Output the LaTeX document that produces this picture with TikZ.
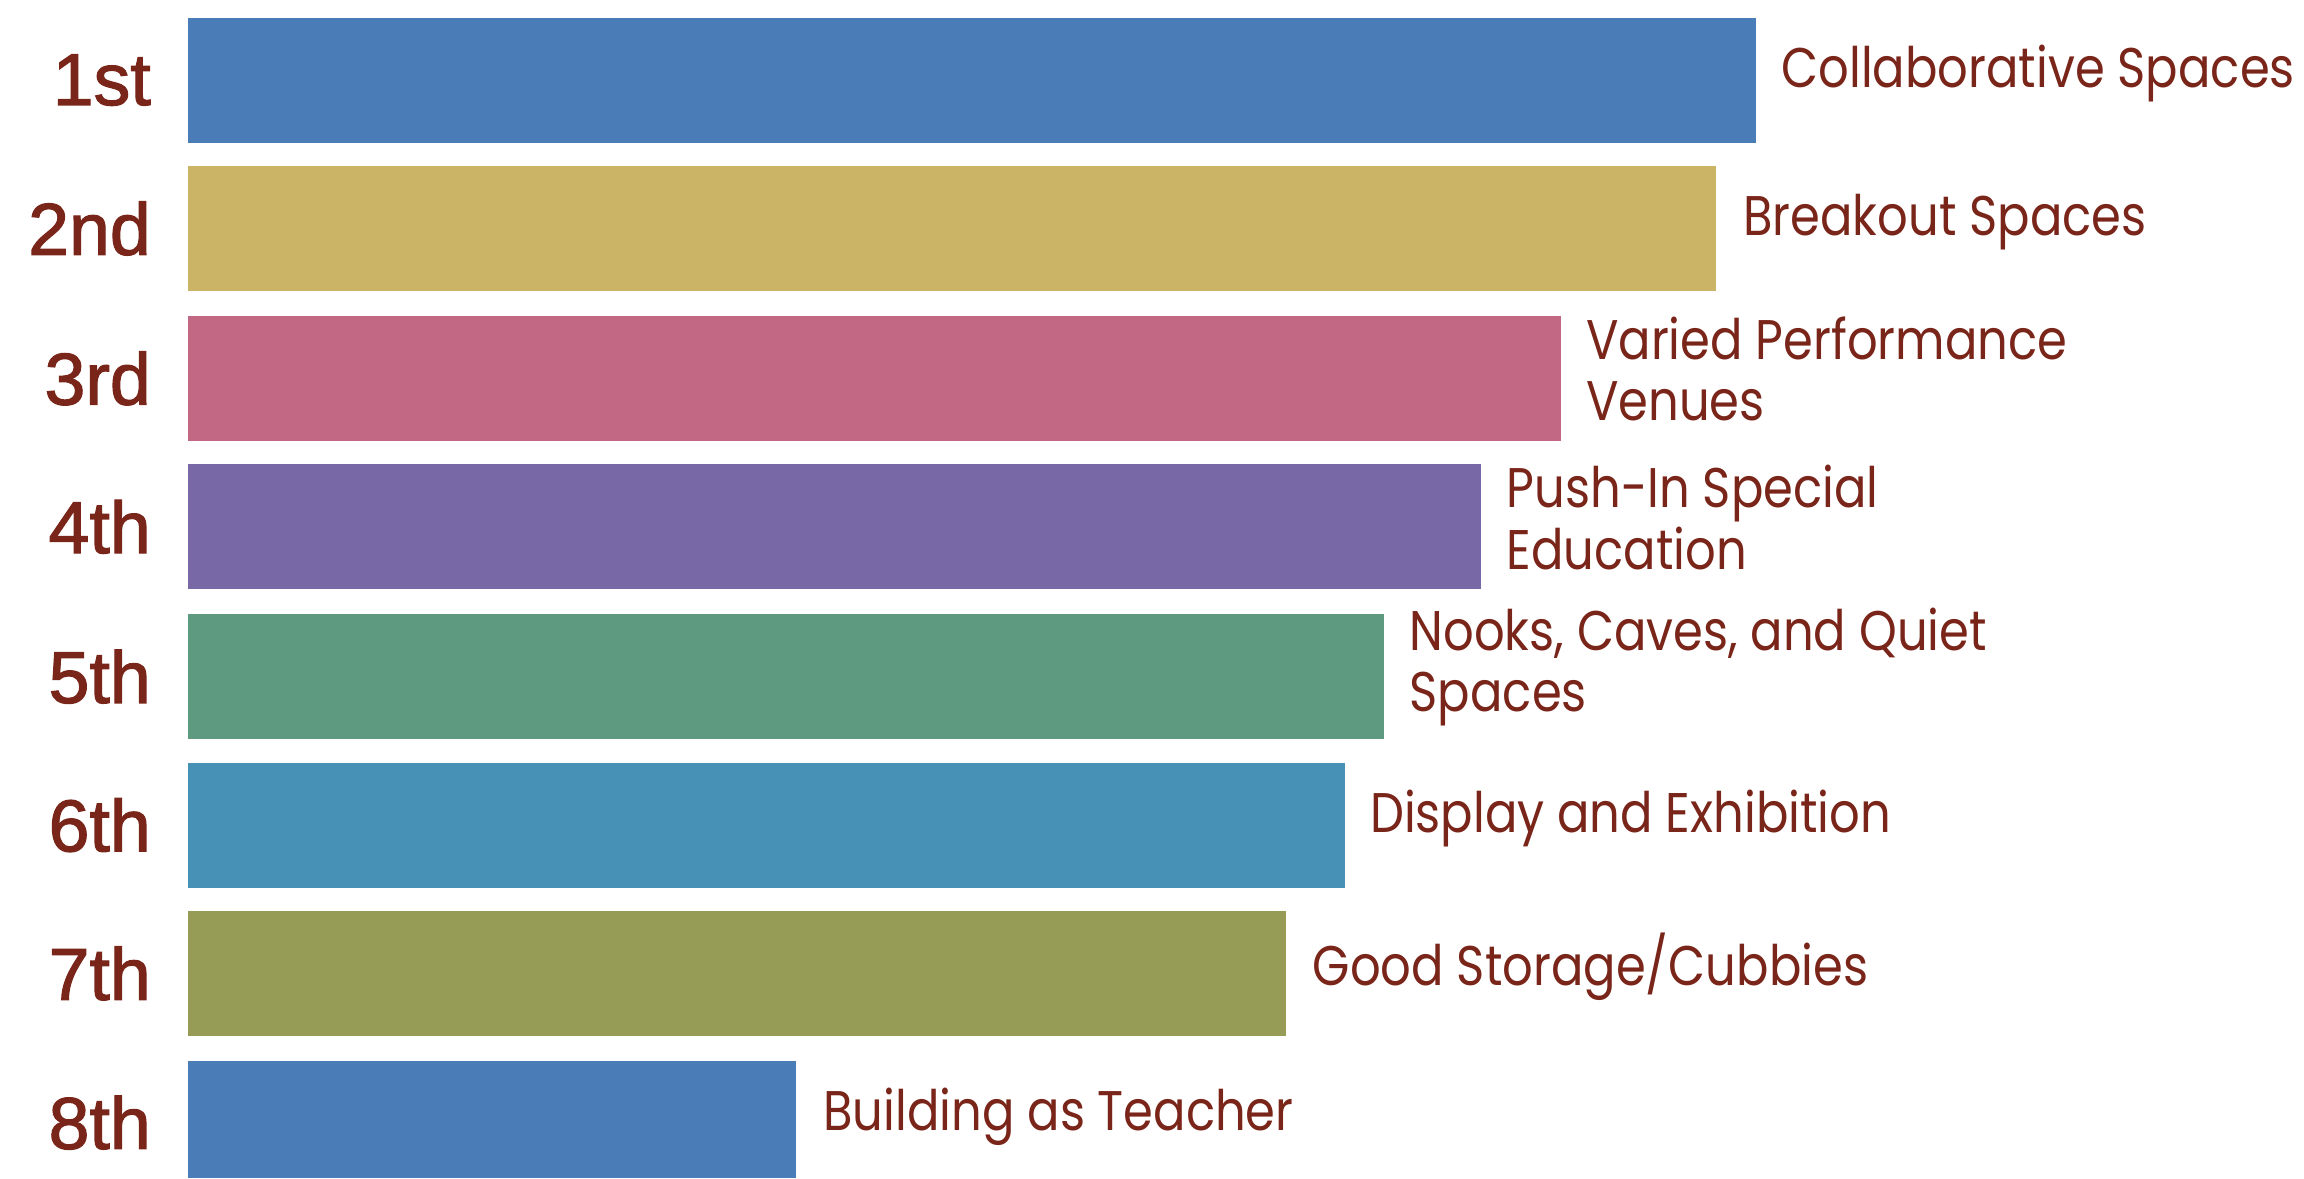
\documentclass[tikz,border=0pt]{standalone}
\usepackage{fontspec}
\setmainfont{Liberation Sans}
\newfontfamily\RankFont[FakeBold=1.6]{Liberation Sans}
\newfontfamily\SpaceFont[FakeStretch=0.86]{Poppins}

\begin{document}
\begin{tikzpicture}[x=0.5pt,y=-0.5pt,
  RankMark/.style={anchor=east,inner sep=0pt,text=RankRed,font=\RankFont\fontsize{25}{28}\selectfont},
  SpaceMark/.style={anchor=west,inner sep=0pt,text=RankRed,align=left,font=\SpaceFont\fontsize{19}{21}\selectfont}]

\useasboundingbox (0,0) rectangle (1568,802);

%Defining colors
\definecolor{RankRed}{HTML}{7A2519}
\definecolor{BarBlue}{HTML}{4A7DB8}
\definecolor{BarGold}{HTML}{CBB466}
\definecolor{BarRose}{HTML}{C26884}
\definecolor{BarViolet}{HTML}{7869A6}
\definecolor{BarGreen}{HTML}{5E9A7F}
\definecolor{BarSky}{HTML}{4790B6}
\definecolor{BarOlive}{HTML}{969B55}

%1st
\fill [BarBlue] (128,12) rectangle (1195,97);
\node[RankMark] (rank1) at (103,54.5) {1st};
\node[SpaceMark] (space1) at (1212,50) {Collaborative Spaces};

%2nd
\fill [BarGold] (128,113) rectangle (1168,198);
\node[RankMark] (rank2) at (103,155.5) {2nd};
\node[SpaceMark] (space2) at (1186,151) {Breakout Spaces};

%3rd
\fill [BarRose] (128,215) rectangle (1062,300);
\node[RankMark] (rank3) at (103,257.5) {3rd};
\node[SpaceMark] (space3) at (1079,251) {Varied Performance\\Venues};

%4th
\fill [BarViolet] (128,316) rectangle (1008,401);
\node[RankMark] (rank4) at (103,358.5) {4th};
\node[SpaceMark] (space4) at (1025,352) {Push-In Special\\Education};

%5th
\fill [BarGreen] (128,418) rectangle (942,503);
\node[RankMark] (rank5) at (103,460.5) {5th};
\node[SpaceMark] (space5) at (959,454) {Nooks, Caves, and Quiet\\Spaces};

%6th
\fill [BarSky] (128,519) rectangle (915,604);
\node[RankMark] (rank6) at (103,561.5) {6th};
\node[SpaceMark] (space6) at (932,557) {Display and Exhibition};

%7th
\fill [BarOlive] (128,620) rectangle (875,705);
\node[RankMark] (rank7) at (103,662.5) {7th};
\node[SpaceMark] (space7) at (893,658) {Good Storage/Cubbies};

%8th
\fill [BarBlue] (128,722) rectangle (542,802);
\node[RankMark] (rank8) at (103,764) {8th};
\node[SpaceMark] (space8) at (560,760) {Building as Teacher};

\end{tikzpicture}
\end{document}
